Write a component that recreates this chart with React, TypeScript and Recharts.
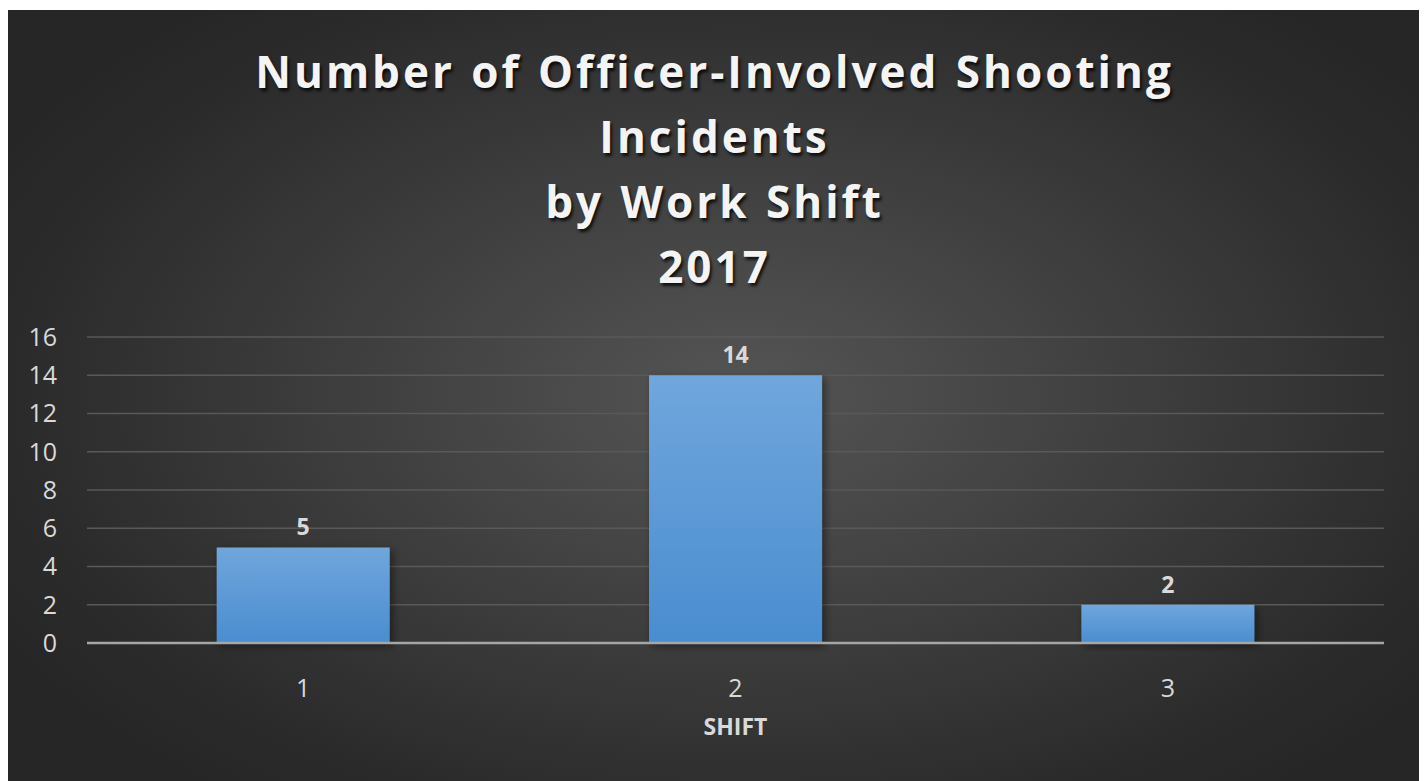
import React from 'react';
import { BarChart, Bar, XAxis, YAxis, CartesianGrid, LabelList } from 'recharts';

const shifts = ['1', '2', '3'];
const incidents = [5, 14, 2];
const yTicks = [0, 2, 4, 6, 8, 10, 12, 14, 16];
const titleLines = ['Number of Officer-Involved Shooting', 'Incidents', 'by Work Shift', '2017'];
const xAxisTitle = 'SHIFT';

const data = shifts.map((s, i) => ({ shift: s, value: incidents[i] }));

const W = 1413;
const H = 771;
const FONT = '"Open Sans", "Liberation Sans", sans-serif';

export default function App() {
  return (
    <div
      style={{
        position: 'relative',
        width: W,
        height: H,
        marginTop: 2,
        background:
          'radial-gradient(ellipse 60% 65% at 52% 50%, #555555 0%, #3f3f3f 45%, #2b2b2b 85%, #262626 100%)',
        fontFamily: FONT,
      }}
    >
      <div
        style={{
          position: 'absolute',
          left: 0,
          top: 29,
          width: W,
          textAlign: 'center',
          color: '#f4f4f4',
          fontWeight: 700,
          fontSize: 44,
          lineHeight: '65px',
          letterSpacing: 3,
          wordSpacing: 2,
          textShadow: '2px 3px 3px rgba(0,0,0,0.75)',
        }}
      >
        {titleLines.map((l) => (
          <div key={l}>{l}</div>
        ))}
      </div>
      <BarChart
        width={W}
        height={H}
        data={data}
        margin={{ top: 327, right: 37, left: 19, bottom: 38 }}
        barCategoryGap="30%"
        style={{ position: 'absolute', left: 0, top: 0 }}
      >
        <defs>
          <linearGradient id="barGrad" x1="0" y1="0" x2="0" y2="1">
            <stop offset="0%" stopColor="#70a6dc" />
            <stop offset="100%" stopColor="#4a8dd0" />
          </linearGradient>
          <filter id="barShadow" x="-20%" y="-20%" width="140%" height="140%">
            <feDropShadow dx="3" dy="3" stdDeviation="4" floodColor="#000" floodOpacity="0.45" />
          </filter>
        </defs>
        <CartesianGrid vertical={false} stroke="#595959" strokeWidth={1.5} />
        <XAxis
          dataKey="shift"
          height={100}
          axisLine={{ stroke: '#a6a6a6', strokeWidth: 2.5 }}
          tickLine={false}
          tickMargin={30}
          tick={{ fill: '#d9d9d9', fontSize: 25, fontFamily: FONT }}
          label={{
            value: xAxisTitle,
            position: 'insideBottom',
            offset: 8,
            fill: '#d9d9d9',
            fontSize: 23,
            fontWeight: 700,
            fontFamily: FONT,
          }}
        />
        <YAxis
          width={60}
          domain={[0, 16]}
          ticks={yTicks}
          axisLine={false}
          tickLine={false}
          tickMargin={24}
          tick={{ fill: '#d9d9d9', fontSize: 25, fontFamily: FONT }}
        />
        <Bar dataKey="value" fill="url(#barGrad)" filter="url(#barShadow)" isAnimationActive={false}>
          <LabelList
            dataKey="value"
            position="top"
            offset={12}
            fill="#d9d9d9"
            fontSize={23}
            fontWeight={700}
            fontFamily={FONT}
          />
        </Bar>
      </BarChart>
    </div>
  );
}
